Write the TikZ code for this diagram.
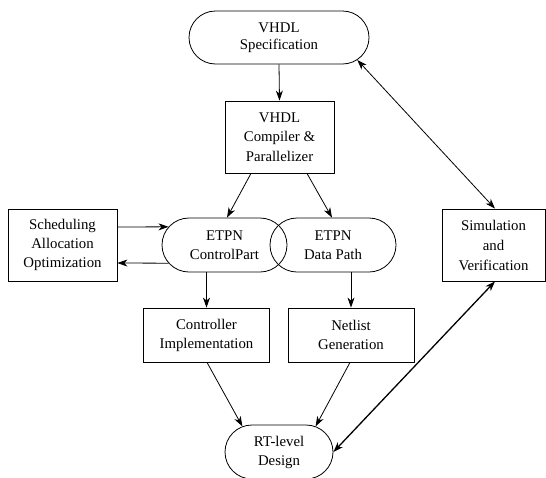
\documentclass[tikz,border=0pt]{standalone}
\usepackage{fontspec}
\setmainfont{Liberation Serif}
\usetikzlibrary{shapes.misc,arrows.meta}
\begin{document}
\begin{tikzpicture}[x=1pt,y=-1pt,
  every node/.style={font=\fontsize{14.8}{19}\selectfont, align=center, inner sep=0pt, line width=0.8pt},
  boxnode/.style={draw, rectangle},
  pill/.style={draw, rounded rectangle},
  arr/.style={line width=0.8pt, -{Stealth[length=10pt,width=7pt,inset=3pt]}},
  darr/.style={line width=0.8pt, {Stealth[length=10pt,width=7pt,inset=3pt]}-{Stealth[length=10pt,width=7pt,inset=3pt]}}
]
\useasboundingbox (0,0) rectangle (546,477);
\node[pill, minimum width=180pt, minimum height=53pt, font=\fontsize{14.8}{17}\selectfont] (spec) at (279,37.5) {VHDL\\Specification};
\node[boxnode, minimum width=109pt, minimum height=72pt, font=\fontsize{14.8}{19.5}\selectfont] (comp) at (279.5,137) {VHDL\\Compiler \&\\Parallelizer};
\node[boxnode, minimum width=109pt, minimum height=72pt] (sched) at (62.5,245) {Scheduling\\Allocation\\Optimization};
\node[pill, minimum width=125pt, minimum height=54pt] (cp) at (224.5,245) {ETPN\\ControlPart};
\node[pill, minimum width=126pt, minimum height=54pt] (dp) at (333,245) {ETPN\\Data Path};
\node[boxnode, minimum width=103pt, minimum height=72pt, font=\fontsize{14.8}{20}\selectfont] (sim) at (493.5,245) {Simulation\\and\\Verification};
\node[boxnode, minimum width=126pt, minimum height=54pt] (ctrl) at (206.5,335) {Controller\\Implementation};
\node[boxnode, minimum width=126pt, minimum height=54pt] (net) at (351,335) {Netlist\\Generation};
\node[pill, minimum width=108pt, minimum height=54pt] (rt) at (279,452) {RT-level\\Design};

\draw[arr] (spec.south) -- (comp.north);
\draw[arr] ([xshift=-28.5pt]comp.south) -- ([xshift=2.5pt]cp.north);
\draw[arr] ([xshift=27.5pt]comp.south) -- ([xshift=-1pt]dp.north);
\draw[arr] ([yshift=18pt]sched.east) -- (cp.162);
\draw[arr] (cp.198) -- ([yshift=-18pt]sched.east);
\draw[arr] (cp.south -| ctrl.north) -- (ctrl.north);
\draw[arr] (dp.south -| net.north) -- (net.north);
\draw[arr] ([xshift=0.5pt]ctrl.south) -- (rt.145);
\draw[arr] ([xshift=-1pt]net.south) -- (rt.35);
\draw[darr] (spec.-16) -- ([xshift=1.5pt]sim.north);
\draw[darr, line width=1.3pt] (rt.east) -- ([xshift=1.5pt]sim.south);
\end{tikzpicture}
\end{document}
